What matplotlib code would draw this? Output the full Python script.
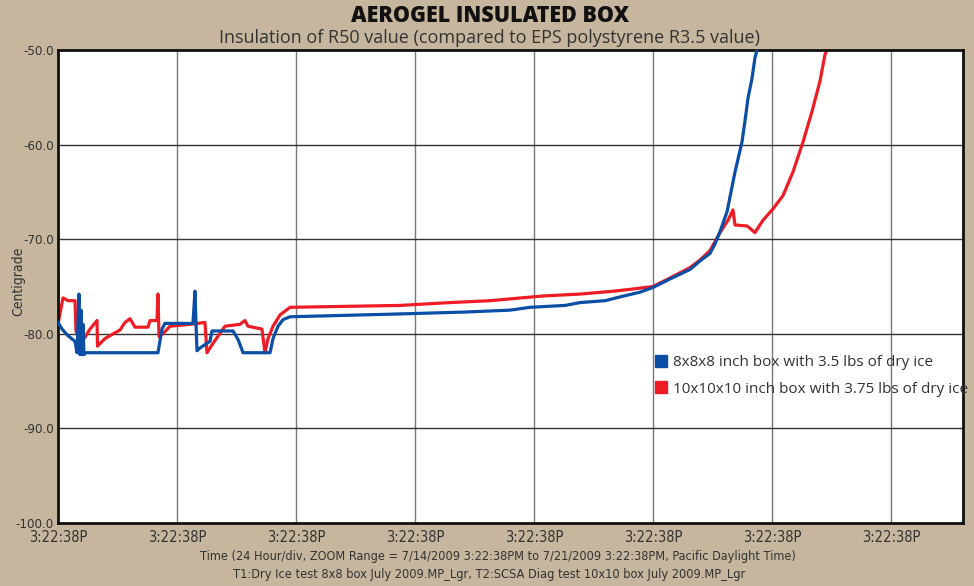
import matplotlib.pyplot as plt
from matplotlib.lines import Line2D

# time in days since 7/14/2009 3:22:38PM, temperature in C
blue_days = [0.000, 0.034, 0.084, 0.143, 0.160, 0.176, 0.185, 0.193, 0.202, 0.210,
             0.218, 0.235, 0.840, 0.874, 0.899, 1.134, 1.151, 1.160, 1.168, 1.193,
             1.277, 1.294, 1.471, 1.513, 1.555, 1.782, 1.807, 1.849, 1.891, 1.950,
             2.874, 3.420, 3.798, 3.966, 4.261, 4.387, 4.597, 4.723, 4.891, 5.000,
             5.143, 5.311, 5.395, 5.479, 5.521, 5.563, 5.622, 5.689, 5.748, 5.773,
             5.798, 5.832, 5.857, 5.874]
blue_temp = [-78.8, -79.5, -80.2, -80.8, -82.0, -75.8, -82.2, -77.5, -82.2, -79.0,
             -82.2, -82.0, -82.0, -79.5, -78.9, -78.9, -75.5, -79.0, -81.8, -81.5,
             -80.8, -79.7, -79.7, -80.6, -82.0, -82.0, -80.5, -79.2, -78.5, -78.2,
             -77.9, -77.7, -77.5, -77.2, -77.0, -76.7, -76.5, -76.1, -75.6, -75.1,
             -74.2, -73.2, -72.3, -71.5, -70.5, -69.2, -67.1, -62.9, -59.7, -57.5,
             -55.1, -53.0, -50.8, -50.0]

red_days = [0.000, 0.004, 0.042, 0.084, 0.143, 0.151, 0.185, 0.210, 0.269, 0.328,
            0.332, 0.395, 0.521, 0.563, 0.605, 0.647, 0.756, 0.773, 0.832, 0.840,
            0.849, 0.882, 0.941, 1.109, 1.235, 1.252, 1.303, 1.403, 1.529, 1.571,
            1.597, 1.714, 1.739, 1.765, 1.807, 1.866, 1.950, 2.874, 3.294, 3.630,
            4.076, 4.387, 4.664, 4.807, 5.000, 5.143, 5.311, 5.395, 5.479, 5.563,
            5.630, 5.672, 5.689, 5.790, 5.857, 5.924, 6.008, 6.092, 6.176, 6.261,
            6.336, 6.403, 6.445, 6.462]
red_temp = [-73.7, -78.7, -76.2, -76.5, -76.5, -79.7, -81.0, -80.7, -79.5, -78.6,
            -81.3, -80.5, -79.6, -78.8, -78.4, -79.3, -79.3, -78.6, -78.6, -75.8,
            -80.3, -80.0, -79.2, -79.0, -78.8, -82.0, -81.0, -79.2, -79.0, -78.6,
            -79.2, -79.5, -82.0, -80.5, -79.2, -78.0, -77.2, -77.0, -76.7, -76.5,
            -76.0, -75.8, -75.5, -75.3, -75.0, -74.1, -73.0, -72.2, -71.2, -69.3,
            -68.0, -66.9, -68.5, -68.6, -69.3, -68.0, -66.8, -65.4, -62.9, -59.7,
            -56.5, -53.3, -50.5, -50.0]

y_ticks = [-100.0, -90.0, -80.0, -70.0, -60.0, -50.0]
x_ticks = [0, 1, 2, 3, 4, 5, 6, 7]
x_tick_label = "3:22:38P"
series_names = ["8x8x8 inch box with 3.5 lbs of dry ice",
                "10x10x10 inch box with 3.75 lbs of dry ice"]

BLUE = '#0a4ea6'
RED = '#ee1c25'
BG = '#c5b69d'
TXT = '#333333'

plt.rcParams['font.family'] = ['DejaVu Sans']
narrow = dict(family='DejaVu Sans', stretch='condensed', color=TXT)

fig = plt.figure(figsize=(9.74, 5.86), dpi=100, facecolor=BG)
ax = fig.add_axes([58 / 974, 1 - 523 / 586, 905 / 974, 473 / 586])
ax.set_facecolor('white')

ax.plot(blue_days, blue_temp, color=BLUE, lw=2.3, zorder=3)
ax.plot(red_days, red_temp, color=RED, lw=2.3, zorder=2)

ax.set_xlim(0, 7.605)
ax.set_ylim(-100, -50)
ax.set_xticks(x_ticks)
ax.set_xticklabels([x_tick_label] * len(x_ticks), fontsize=10.5, **narrow)
ax.set_yticks(y_ticks)
ax.set_yticklabels([f"{v:.1f}" for v in y_ticks], fontsize=9.5, **narrow)
ax.tick_params(axis='x', length=0, pad=5)
ax.tick_params(axis='y', length=0, pad=3)

for x in x_ticks[1:]:
    ax.axvline(x, color='#777777', lw=1.0, zorder=1)
for y in y_ticks[1:-1]:
    ax.axhline(y, color='#333333', lw=1.0, zorder=1)
for s in ax.spines.values():
    s.set_linewidth(2)
    s.set_color('#111111')

ax.set_ylabel('Centigrade', fontsize=10, **narrow)
ax.yaxis.set_label_coords(-0.036, 0.51)

fig.text(0.503, 0.972, 'AEROGEL INSULATED BOX', ha='center', va='center',
         fontsize=15.5, fontweight='heavy', family='Open Sans', color='#111111')
fig.text(0.503, 0.936, 'Insulation of R50 value (compared to EPS polystyrene R3.5 value)',
         ha='center', va='center', fontsize=13, family='Open Sans', color=TXT)
fig.text(0.511, 0.051, 'Time (24 Hour/div, ZOOM Range = 7/14/2009 3:22:38PM to 7/21/2009 3:22:38PM, Pacific Daylight Time)',
         ha='center', va='center', fontsize=9.1, **narrow)
fig.text(0.502, 0.019, 'T1:Dry Ice test 8x8 box July 2009.MP_Lgr, T2:SCSA Diag test 10x10 box July 2009.MP_Lgr',
         ha='center', va='center', fontsize=9.2, **narrow)

handles = [Line2D([], [], ls='none', marker='s', ms=9, color=BLUE),
           Line2D([], [], ls='none', marker='s', ms=9, color=RED)]
leg = ax.legend(handles, series_names, loc='upper left', bbox_to_anchor=(0.654, 0.368),
                frameon=False, handlelength=0.6, handletextpad=0.5,
                labelspacing=0.75, borderaxespad=0,
                prop=dict(family='Open Sans', size=11))
for t in leg.get_texts():
    t.set_color(TXT)
leg.set_clip_on(False)

fig.savefig('out.png', dpi=100, facecolor=BG)
